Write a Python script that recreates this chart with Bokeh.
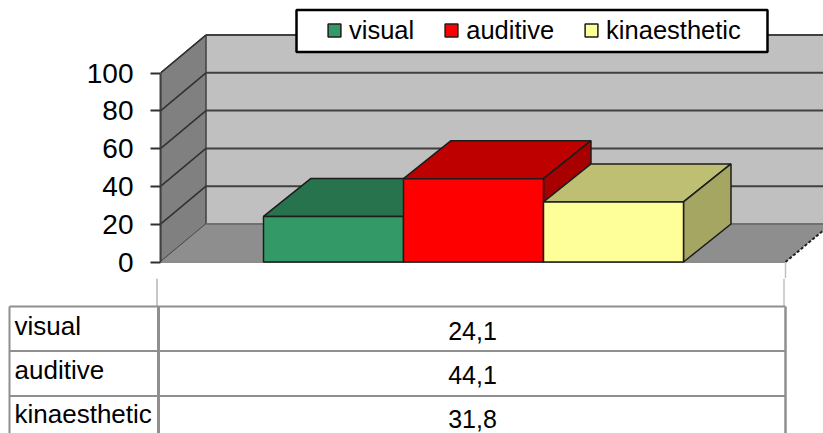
from bokeh.embed import file_html
from bokeh.layouts import column
from bokeh.models import (BoxAnnotation, FixedTicker, Legend, LegendItem, LinearAxis, Range1d)
from bokeh.plotting import figure
from bokeh.resources import INLINE
from bokeh.core.properties import value

categories = ["visual", "auditive", "kinaesthetic"]
values = [24.1, 44.1, 31.8]
value_labels = ["24,1", "44,1", "31,8"]
y_ticks = [0, 20, 40, 60, 80, 100]

front_colors = ["#339966", "#ff0000", "#ffff99"]
top_colors = ["#26734d", "#bf0000", "#bfbf73"]
side_colors = ["#1f5c3d", "#a80000", "#a6a663"]

FONT = "Liberation Sans"
EDGE = "#1c1c1c"

# pixel geometry of the picture
PX_LEFT, PX_SPLIT, PX_RIGHT, PX_BOTTOM = 160, 278, 823, 433
PX_ZERO, PX_PER_UNIT = 261.5, 1.89
PX_BAR0, PX_BAR = 263, 140

x_start = (PX_LEFT - PX_BAR0) / PX_BAR
x_end = (PX_RIGHT - PX_BAR0) / PX_BAR
floor_end = (785 - PX_BAR0) / PX_BAR
dx = 45.5 / PX_BAR
bar_dx = 47.5 / PX_BAR
dy = 38 / PX_PER_UNIT

p = figure(width=PX_RIGHT, height=PX_SPLIT, output_backend="svg", toolbar_location=None,
           x_range=Range1d(x_start, x_end),
           y_range=Range1d((PX_ZERO - PX_SPLIT) / PX_PER_UNIT, PX_ZERO / PX_PER_UNIT),
           x_axis_location=None, y_axis_location=None, frame_align=False,
           min_border_left=PX_LEFT, min_border_right=0, min_border_top=0, min_border_bottom=0)
p.xgrid.visible = False
p.ygrid.visible = False
p.outline_line_color = None
p.background_fill_color = "white"

ymax = y_ticks[-1]
# back wall, left wall, floor
p.patch([x_start + dx, x_end + 1, x_end + 1, x_start + dx], [dy, dy, ymax + dy, ymax + dy],
        fill_color="#c0c0c0", line_color=None)
p.patch([x_start, x_start + dx, x_start + dx, x_start], [0, dy, ymax + dy, ymax],
        fill_color="#808080", line_color="#404040", line_width=1.5)
p.patch([x_start, floor_end, floor_end + dx, x_start + dx], [0, 0, dy, dy],
        fill_color="#8e8e8e", line_color=None)
p.line([x_start, floor_end], [0, 0], line_color="#8c8c8c", line_width=2)
p.line([floor_end, floor_end + dx], [0, dy], line_color="#202020", line_width=2, line_dash="3 2")
p.segment(x0=[floor_end], y0=[0], x1=[floor_end], y1=[(PX_ZERO - PX_SPLIT) / PX_PER_UNIT],
          line_color="#c0c0c0", line_width=1.5)

# grid lines: back wall and diagonals on the left wall
for t in y_ticks:
    color = "#707070" if t == 0 else "#404040"
    p.line([x_start + dx, x_end], [t + dy, t + dy], line_color=color, line_width=2)
    if t > 0:
        p.line([x_start, x_start + dx], [t, t + dy], line_color="#303030", line_width=1.5)

# bars
items = []
for i, (name, v) in enumerate(zip(categories, values)):
    l, r = i, i + 1
    p.patch([l, r, r + bar_dx, l + bar_dx], [v, v, v + dy, v + dy],
            fill_color=top_colors[i], line_color=EDGE, line_width=1.5)
    p.patch([r, r + bar_dx, r + bar_dx, r], [0, dy, v + dy, v],
            fill_color=side_colors[i], line_color=EDGE, line_width=1.5)
    front = p.quad(left=l, right=r, bottom=0, top=v,
                   fill_color=front_colors[i], line_color=EDGE, line_width=1.5)
    items.append(LegendItem(label=name, renderers=[front]))

axis = LinearAxis(ticker=FixedTicker(ticks=y_ticks), bounds=(0, ymax),
                  major_label_text_font=FONT, major_label_text_font_size="28px",
                  major_label_text_color="black", major_label_standoff=17,
                  major_tick_out=10, major_tick_in=0, minor_tick_line_color=None,
                  major_tick_line_color="#303030", major_tick_line_width=2,
                  axis_line_color="#404040", axis_line_width=2)
p.add_layout(axis, "left")

# stub of the table's first column line, left of the frame
p.add_layout(BoxAnnotation(left=156, right=157, top=263, bottom=PX_SPLIT,
                           left_units="canvas", right_units="canvas", top_units="canvas",
                           bottom_units="canvas", fill_color="#8f8f8f", fill_alpha=1, line_color=None))

# legend box and legend
box = BoxAnnotation(left=296, right=767, top=9.5, bottom=51.5,
                    left_units="canvas", right_units="canvas", top_units="canvas", bottom_units="canvas",
                    fill_color="white", fill_alpha=1, line_color="black", line_alpha=1, line_width=2.5,
                    level="overlay")
p.add_layout(box)
legend = Legend(items=items, orientation="horizontal", location=(326 - PX_LEFT, PX_SPLIT - 44.5),
                padding=0, margin=0, spacing=29, glyph_width=16, glyph_height=16, label_standoff=7,
                label_text_font=FONT, label_text_font_size="25.5px", label_text_color="black",
                border_line_color=None, background_fill_alpha=0, level="overlay")
p.add_layout(legend)

# data table below the chart
t = figure(width=PX_RIGHT, height=PX_BOTTOM - PX_SPLIT, output_backend="svg", toolbar_location=None,
           x_range=Range1d(0, PX_RIGHT), y_range=Range1d(PX_BOTTOM, PX_SPLIT),
           x_axis_location=None, y_axis_location=None, frame_align=False,
           min_border_left=0, min_border_right=0, min_border_top=0, min_border_bottom=0)
t.xgrid.visible = False
t.ygrid.visible = False
t.outline_line_color = None

GRID = "#8f8f8f"
row_lines = [306, 350.5, 395.5]
label_baselines = [325, 369, 413]
value_baselines = [330, 374, 418]
t.segment(x0=[156.5], y0=[PX_SPLIT], x1=[156.5], y1=[306], line_color=GRID, line_width=1)
t.segment(x0=[783.5], y0=[PX_SPLIT], x1=[783.5], y1=[306], line_color="#c0c0c0", line_width=1.5)
t.segment(x0=[9] * 3, y0=row_lines, x1=[785] * 3, y1=row_lines, line_color=GRID, line_width=2)
t.segment(x0=[9, 158, 785], y0=[306] * 3, x1=[9, 158, 785], y1=[PX_BOTTOM] * 3, line_color=GRID,
          line_width=[2, 3, 2.5])
t.text(x=[14] * 3, y=label_baselines, text=categories, text_font=value(FONT), text_font_size="26px",
       text_baseline="alphabetic", text_align="left", text_color="black")
t.text(x=[472] * 3, y=value_baselines, text=value_labels, text_font=value(FONT), text_font_size="25px",
       text_baseline="alphabetic", text_align="center", text_color="black")

page = column(p, t, spacing=0)
open("out.html", "w").write(file_html(page, INLINE))
